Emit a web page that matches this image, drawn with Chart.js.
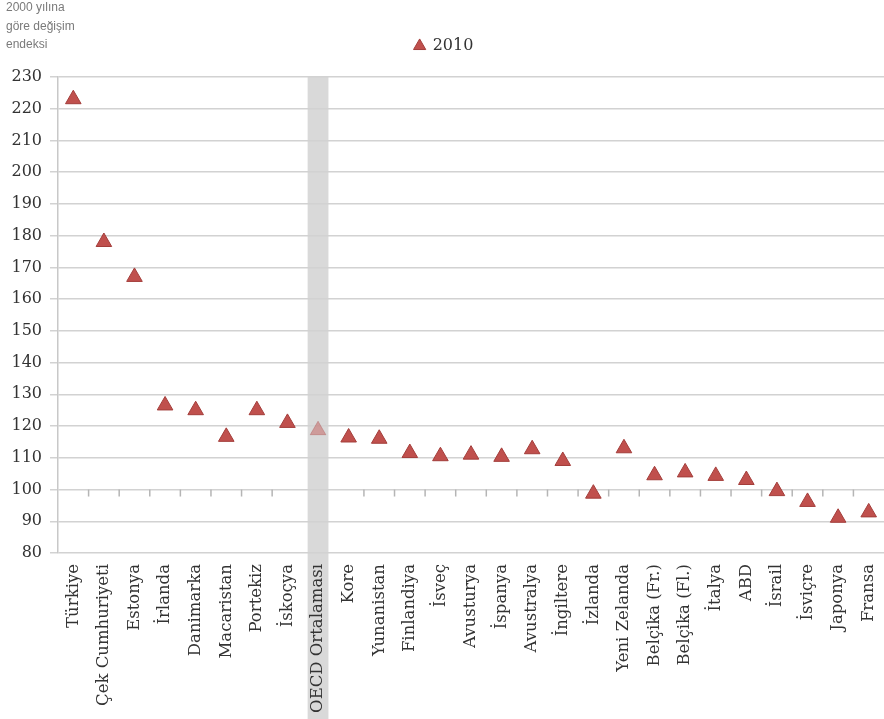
<!DOCTYPE html>
<html>
<head>
<meta charset="utf-8">
<script src="https://cdn.jsdelivr.net/npm/chart.js@4/dist/chart.umd.min.js"></script>
<style>
  body { margin: 0; background: #fff; }
  #wrap { width: 884px; height: 719px; }
</style>
</head>
<body>
<div id="wrap"><canvas id="chart" width="884" height="719"></canvas></div>
<script>
const ulkeler = ["Türkiye", "Çek Cumhuriyeti", "Estonya", "İrlanda", "Danimarka", "Macaristan", "Portekiz", "İskoçya",
    "OECD Ortalaması", "Kore", "Yunanistan", "Finlandiya", "İsveç", "Avusturya", "İspanya", "Avustralya", "İngiltere",
    "İzlanda", "Yeni Zelanda", "Belçika (Fr.)", "Belçika (Fl.)", "İtalya", "ABD", "İsrail", "İsviçre", "Japonya", "Fransa"];
const endeks2010 = [223, 178, 167, 126.5, 125, 116.6, 125, 121, 118.7, 116.4, 116, 111.5, 110.5, 111, 110.3, 112.7, 109,
    98.7, 113, 104.5, 105.4, 104.3, 103, 99.5, 96.1, 91.1, 92.8];
const eksenBasligi = ["2000 yılına", "göre değişim", "endeksi"];
const ortalamaIndex = ulkeler.indexOf("OECD Ortalaması");

const kirmizi = '#c0504d';
const serif = '"DejaVu Serif", "Liberation Serif", serif';
const noktaRenk = ulkeler.map((u, i) => i === ortalamaIndex ? 'rgba(192, 80, 77, 0.45)' : kirmizi);
const kenarRenk = ulkeler.map((u, i) => i === ortalamaIndex ? 'rgba(160, 60, 58, 0.3)' : '#a33d3a');

// gray band behind the OECD column, down through its label
const ortalamaBandi = {
    id: 'ortalamaBandi',
    beforeDraw(chart) {
        const x = chart.scales.x;
        const ctx = chart.ctx;
        const step = x.getPixelForValue(1) - x.getPixelForValue(0);
        const w = step * 0.68;
        const cx = x.getPixelForValue(ortalamaIndex);
        ctx.save();
        ctx.fillStyle = '#d9d9d9';
        ctx.fillRect(cx - w / 2, chart.chartArea.top, w, chart.height - chart.chartArea.top);
        ctx.restore();
    }
};

// category tick marks sitting on the 100 line, plus the axis caption
const ekler = {
    id: 'ekler',
    beforeDatasetsDraw(chart) {
        const x = chart.scales.x;
        const y = chart.scales.y;
        const ctx = chart.ctx;
        const y100 = y.getPixelForValue(100);
        ctx.save();
        ctx.strokeStyle = '#b5b5b5';
        ctx.lineWidth = 1.5;
        for (let i = 0; i < ulkeler.length - 1; i++) {
            if (i === ortalamaIndex - 1 || i === ortalamaIndex) continue;
            const bx = (x.getPixelForValue(i) + x.getPixelForValue(i + 1)) / 2;
            ctx.beginPath();
            ctx.moveTo(bx, y100);
            ctx.lineTo(bx, y100 + 7);
            ctx.stroke();
        }
        ctx.fillStyle = '#7a7a7a';
        ctx.font = '12px "Liberation Sans", Arial, sans-serif';
        ctx.textBaseline = 'middle';
        eksenBasligi.forEach((t, i) => ctx.fillText(t, 6, 8 + i * 18.5));
        ctx.restore();
    }
};

const ctx = document.getElementById('chart').getContext('2d');
new Chart(ctx, {
    type: 'line',
    data: {
        labels: ulkeler,
        datasets: [{
            label: '2010',
            data: endeks2010,
            xAxisID: 'x',
            yAxisID: 'y',
            showLine: false,
            pointStyle: 'triangle',
            pointRadius: 9,
            pointHoverRadius: 9,
            pointBackgroundColor: noktaRenk,
            pointBorderColor: kenarRenk,
            pointBorderWidth: 1,
            backgroundColor: kirmizi,
            borderColor: '#a33d3a'
        }]
    },
    options: {
        responsive: false,
        animation: false,
        layout: {
            autoPadding: false,
            padding: { top: 11, right: -4, left: 0, bottom: 0 }
        },
        plugins: {
            legend: {
                position: 'top',
                labels: {
                    usePointStyle: true,
                    pointStyle: 'triangle',
                    boxWidth: 10,
                    boxHeight: 10,
                    color: '#333',
                    padding: 27,
                    font: { family: serif, size: 16 }
                }
            },
            tooltip: { enabled: false }
        },
        scales: {
            x: {
                offset: true,
                grid: { display: false, drawTicks: false },
                border: { display: false },
                ticks: {
                    autoSkip: false,
                    maxRotation: 90,
                    minRotation: 90,
                    padding: 11,
                    color: '#333',
                    font: { family: serif, size: 16.5 }
                },
                afterFit(scale) {
                    scale.height = 166;
                    scale.paddingLeft = 0;
                    scale.paddingRight = 0;
                }
            },
            // empty strip between the legend and the plot
            ust: {
                type: 'category',
                position: 'top',
                labels: ulkeler,
                offset: true,
                grid: { display: false, drawTicks: false },
                border: { display: false },
                ticks: { display: false },
                afterFit(scale) {
                    scale.height = 13;
                    scale.paddingLeft = 0;
                    scale.paddingRight = 0;
                }
            },
            y: {
                min: 80,
                max: 230,
                ticks: {
                    stepSize: 10,
                    padding: 8,
                    color: '#333',
                    font: { family: serif, size: 16 }
                },
                grid: { color: '#d2d2d2', lineWidth: 1.5, tickLength: 8, tickColor: '#d2d2d2' },
                border: { display: true, color: '#c8c8c8', width: 1.5 },
                afterFit(scale) { scale.width = 58; }
            }
        }
    },
    plugins: [ortalamaBandi, ekler]
});
</script>
</body>
</html>
